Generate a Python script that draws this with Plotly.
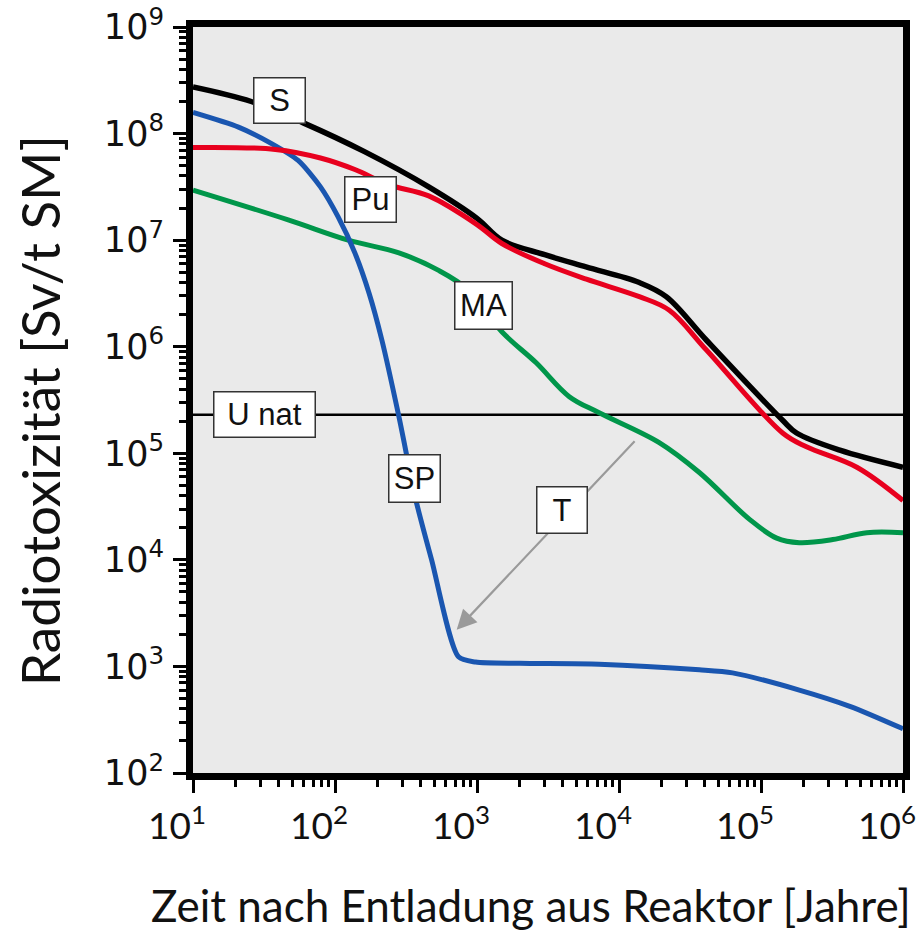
import plotly.graph_objects as go

# ---- data ----
years_S = [10, 25.7, 59.8, 160, 457, 1000, 1496, 3000, 5860, 13900, 21500, 41300, 142000, 178000, 359000, 1000000]
tox_S = [2.74e8, 2.0e8, 1.26e8, 6.8e7, 3.16e7, 1.6e7, 1.0e7, 7.3e6, 5.6e6, 4.0e6, 2.95e6, 1.15e6, 2.04e5, 1.55e5, 1.07e5, 7.4e4]

years_Pu = [10, 38, 79, 138, 240, 457, 1000, 1496, 3000, 5890, 13900, 22600, 41300, 142000, 209000, 473000, 1000000]
tox_Pu = [7.4e7, 7.1e7, 5.9e7, 4.6e7, 3.3e7, 2.6e7, 1.4e7, 9.3e6, 6.0e6, 4.3e6, 2.95e6, 2.2e6, 9.3e5, 1.55e5, 1.15e5, 7.4e4, 3.6e4]

years_MA = [10, 46.8, 124, 282, 537, 871, 1496, 2600, 4467, 7244, 19200, 36800, 83000, 129000, 186000, 320000, 556000, 1000000]
tox_MA = [2.95e7, 1.55e7, 1.0e7, 7.6e6, 5.2e6, 3.4e6, 1.38e6, 7.1e5, 3.4e5, 2.4e5, 1.26e5, 6.6e4, 2.4e4, 1.6e4, 1.45e4, 1.55e4, 1.8e4, 1.8e4]

years_SP = [10, 20.9, 35.5, 55, 79, 105, 138, 174, 214, 282, 372, 479, 741, 977, 2000, 7244, 36800, 63000, 186000, 427000, 1000000]
tox_SP = [1.58e8, 1.15e8, 8.1e7, 5.6e7, 3.16e7, 1.66e7, 7.6e6, 3.16e6, 1.15e6, 2.2e5, 3.6e4, 1.0e4, 1.23e3, 1.1e3, 1.07e3, 1.05e3, 9.3e2, 8.7e2, 6.0e2, 4.2e2, 2.6e2]

U_nat_years = [10, 1000000]
U_nat_tox = [2.3e5, 2.3e5]

x_tickvals = [1e1, 1e2, 1e3, 1e4, 1e5, 1e6]
x_ticktext = ["10<sup>1</sup>", "10<sup>2</sup>", "10<sup>3</sup>", "10<sup>4</sup>", "10<sup>5</sup>", "10<sup>6</sup>"]
y_tickvals = [1e2, 1e3, 1e4, 1e5, 1e6, 1e7, 1e8, 1e9]
y_ticktext = ["10<sup>2</sup>", "10<sup>3</sup>", "10<sup>4</sup>", "10<sup>5</sup>", "10<sup>6</sup>", "10<sup>7</sup>", "10<sup>8</sup>", "10<sup>9</sup>"]

x_title = "Zeit nach Entladung aus Reaktor [Jahre]"
y_title = "Radiotoxizität [Sv/t SM]"

# labels: (text, log10 x, log10 y, box width, box height)
labels = [
    ("S", 1.607, 8.315, 50, 44),
    ("Pu", 2.25, 7.377, 50, 44),
    ("MA", 3.048, 6.39, 56, 46),
    ("U nat", 1.50, 5.36, 100, 44),
    ("SP", 2.56, 4.76, 50, 46),
    ("T", 3.60, 4.47, 49, 45),
]
arrow_tail = (4.12, 5.126)
arrow_head = (2.857, 3.343)

fig = go.Figure()
fig.add_trace(go.Scatter(x=U_nat_years, y=U_nat_tox, mode="lines",
                         line=dict(color="black", width=2.4), showlegend=False))
fig.add_trace(go.Scatter(x=years_MA, y=tox_MA, mode="lines",
                         line=dict(color="#00964a", width=5, shape="spline", smoothing=1.0), showlegend=False))
fig.add_trace(go.Scatter(x=years_SP, y=tox_SP, mode="lines",
                         line=dict(color="#1a56b0", width=5, shape="spline", smoothing=0.7), showlegend=False))
fig.add_trace(go.Scatter(x=years_S, y=tox_S, mode="lines",
                         line=dict(color="black", width=5.5, shape="spline", smoothing=1.0), showlegend=False))
fig.add_trace(go.Scatter(x=years_Pu, y=tox_Pu, mode="lines",
                         line=dict(color="#e8001e", width=5, shape="spline", smoothing=1.0), showlegend=False))

annotations = [dict(x=arrow_head[0], y=arrow_head[1], ax=arrow_tail[0], ay=arrow_tail[1],
                    xref="x", yref="y", axref="x", ayref="y", text="", showarrow=True,
                    arrowhead=2, arrowsize=1.8, arrowwidth=2.2, arrowcolor="#9a9a9a")]
for text, lx, ly, w, h in labels:
    annotations.append(dict(x=lx, y=ly, xref="x", yref="y", text=text, showarrow=False,
                            font=dict(family="Liberation Sans, Arial", size=31, color="#111111"),
                            bgcolor="white", bordercolor="#333333", borderwidth=1.5, borderpad=0,
                            width=w, height=h, align="center", valign="middle"))
# axis titles
annotations.append(dict(x=0.4755, y=-0.1765, xref="paper", yref="paper", text=x_title,
                        showarrow=False, xanchor="center", yanchor="middle",
                        font=dict(family="Lato", size=44, color="#111111")))
annotations.append(dict(x=-0.2155, y=0.4866, xref="paper", yref="paper", text=y_title,
                        showarrow=False, xanchor="center", yanchor="middle", textangle=-90,
                        font=dict(family="Lato", size=53, color="#111111")))

minor_vals = [m * 10 ** e for e in range(1, 9) for m in range(2, 10)]

fig.update_layout(
    width=918, height=934,
    margin=dict(l=193, r=15, t=27, b=161),
    paper_bgcolor="white", plot_bgcolor="#eaeaea",
    annotations=annotations,
    xaxis=dict(type="log", range=[1, 6], tickvals=x_tickvals, ticktext=x_ticktext,
               automargin=False,
               ticks="outside", ticklen=13, tickwidth=3, tickcolor="black",
               showline=True, linewidth=7, linecolor="black", mirror=True,
               showgrid=False, zeroline=False,
               tickfont=dict(family="Lato", size=37, color="#111111"),
               ticklabelstandoff=2, ticklabelshift=-16,
               minor=dict(tickvals=minor_vals, ticks="outside", ticklen=7, tickwidth=3, tickcolor="black", showgrid=False)),
    yaxis=dict(type="log", range=[2, 9], tickvals=y_tickvals, ticktext=y_ticktext,
               automargin=False,
               ticks="outside", ticklen=13, tickwidth=3, tickcolor="black",
               showline=True, linewidth=7, linecolor="black", mirror=True,
               showgrid=False, zeroline=False,
               tickfont=dict(family="DejaVu Sans", size=35, color="#111111"),
               ticklabelstandoff=2,
               minor=dict(tickvals=minor_vals, ticks="outside", ticklen=7, tickwidth=3, tickcolor="black", showgrid=False)),
)

fig.write_html("out.html", config={"displayModeBar": False},
               post_script="document.body.style.margin='0';document.body.style.overflow='hidden';")
